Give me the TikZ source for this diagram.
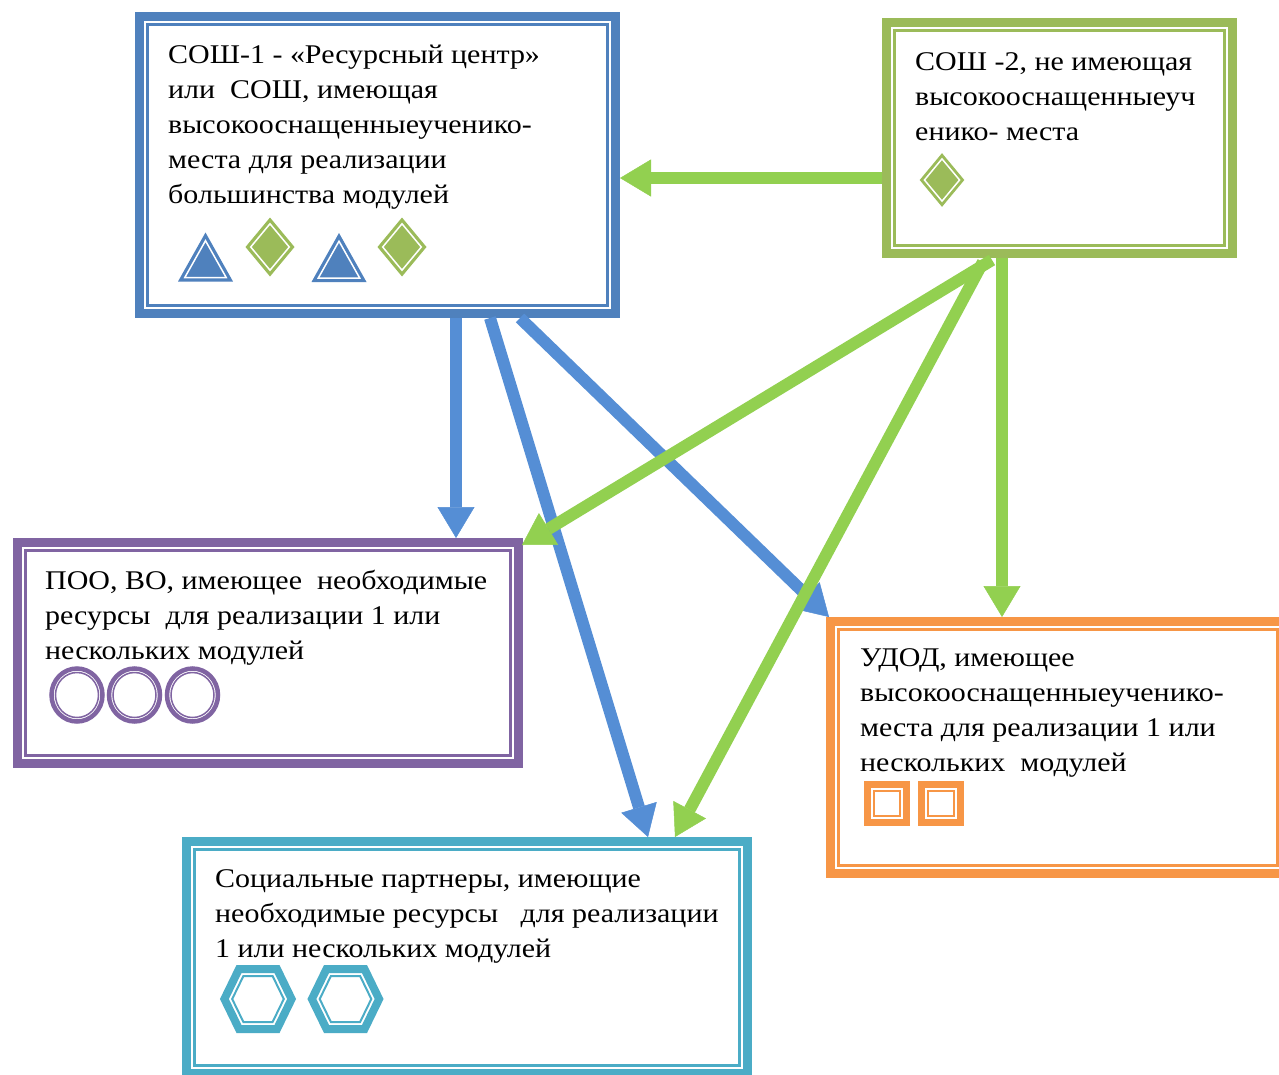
\documentclass[tikz,border=0pt]{standalone}
\usepackage{fontspec}
\setmainfont{Liberation Serif}[FakeStretch=1.11]
\usetikzlibrary{arrows.meta}
\definecolor{cBlue}{HTML}{4F81BD}
\definecolor{cBlueA}{HTML}{558ED5}
\definecolor{cGreen}{HTML}{9BBB59}
\definecolor{cGreenA}{HTML}{92D050}
\definecolor{cPurple}{HTML}{8064A2}
\definecolor{cOrange}{HTML}{F79646}
\definecolor{cCyan}{HTML}{4BACC6}
\begin{document}
\begin{tikzpicture}[x=1pt,y=-1pt,
  frame/.style={draw=#1, line width=9pt, rectangle, inner sep=0pt, outer sep=4.5pt},
  inframe/.style={draw=#1, line width=2.5pt},
  txt/.style={anchor=north west, inner sep=0pt, align=left, font=\fontsize{27}{35}\selectfont},
  tipstyle/.style={-{Triangle[width=37pt,length=31pt,line width=0.5pt]}},
  barrow/.style={draw=cBlueA, line width=12pt, tipstyle},
  garrow/.style={draw=cGreenA, line width=12pt, tipstyle},
  tri/.pic={\fill[cBlue] (0,-24) -- (27.5,25) -- (-27.5,25) -- cycle;
            \draw[white, line width=1.5pt] (0,-15.8) -- (20.7,21) -- (-20.7,21) -- cycle;},
  dia/.pic={\fill[cGreen] (0,-29.5) -- (24.5,0) -- (0,29.5) -- (-24.5,0) -- cycle;
            \draw[white, line width=1.5pt] (0,-23.2) -- (19.3,0) -- (0,23.2) -- (-19.3,0) -- cycle;},
  ring/.pic={\draw[cPurple, line width=4.5pt] (0,0) ellipse [x radius=25.5pt, y radius=26.5pt];
             \draw[cPurple, line width=1.5pt] (0,0) ellipse [x radius=21.5pt, y radius=22.5pt];},
  sqr/.pic={\draw[cOrange, line width=7pt] (-19.5,-19) rectangle (19.5,19);
            \draw[cOrange, line width=2pt] (-13,-12.5) rectangle (13,12.5);},
  hexa/.pic={\draw[cCyan, line width=8pt] (-33.6,0) -- (-19,-30) -- (19,-30) -- (33.6,0) -- (19,30) -- (-19,30) -- cycle;
             \draw[cCyan, line width=2pt] (-25.8,0) -- (-14.6,-23) -- (14.6,-23) -- (25.8,0) -- (14.6,23) -- (-14.6,23) -- cycle;},
]
\fill[white] (0,0) rectangle (1279,1074);
\useasboundingbox (0,0) rectangle (1279,1074);

% frames
\node[frame=cBlue, minimum width=476pt, minimum height=297pt] (s1) at (377.5,165) {};
\node[frame=cGreen, minimum width=346pt, minimum height=231pt] (s2) at (1059.5,138) {};
\node[frame=cPurple, minimum width=501pt, minimum height=221pt] (s3) at (268,653) {};
\node[frame=cOrange, minimum width=455pt, minimum height=252pt] (s4) at (1058,747.5) {};
\node[frame=cCyan, minimum width=561pt, minimum height=232pt] (s5) at (467,957.5) {};

\draw[inframe=cBlue] ([shift={(12.5pt,-12.5pt)}]s1.north west) rectangle ([shift={(-12.5pt,12.5pt)}]s1.south east);
\draw[inframe=cGreen] ([shift={(12.5pt,-12.5pt)}]s2.north west) rectangle ([shift={(-12.5pt,12.5pt)}]s2.south east);
\draw[inframe=cPurple] ([shift={(12.5pt,-12.5pt)}]s3.north west) rectangle ([shift={(-12.5pt,12.5pt)}]s3.south east);
\draw[inframe=cOrange] ([shift={(12.5pt,-12.5pt)}]s4.north west) rectangle ([shift={(-12.5pt,12.5pt)}]s4.south east);
\draw[inframe=cCyan] ([shift={(12.5pt,-12.5pt)}]s5.north west) rectangle ([shift={(-12.5pt,12.5pt)}]s5.south east);

% texts
\node[txt] (t1) at (168,33) {\rule{0pt}{30pt}СОШ-1 - «Ресурсный центр»\\или~~СОШ, имеющая\\высокооснащенныеученико-\\места для реализации\\большинства модулей};
\node[txt] (t2) at (915,40) {\rule{0pt}{30pt}СОШ -2, не имеющая\\высокооснащенныеуч\\енико- места};
\node[txt] (t3) at (45,559) {\rule{0pt}{30pt}ПОО, ВО, имеющее~~необходимые\\ресурсы~~для реализации 1 или\\нескольких модулей};
\node[txt] (t4) at (860,636) {\rule{0pt}{30pt}УДОД, имеющее\\высокооснащенныеученико-\\места для реализации 1 или\\нескольких~~модулей};
\node[txt] (t5) at (215,857) {\rule{0pt}{30pt}Социальные партнеры, имеющие\\необходимые ресурсы~~~для реализации\\1 или нескольких модулей};

% symbols
\pic at (205.5,256.5) {tri};
\pic at (270,247) {dia};
\pic at (339,257) {tri};
\pic at (402,247) {dia};
\pic[scale=0.91] at (942,180) {dia};
\pic at (77,695) {ring};
\pic at (134.5,695) {ring};
\pic at (192.5,695) {ring};
\pic at (887,803.5) {sqr};
\pic at (940.5,803) {sqr};
\pic at (258,999) {hexa};
\pic at (345.5,999) {hexa};

% connectors
\draw[barrow] ([xshift=78.5pt]s1.south) -- ([xshift=188pt]s3.north);
\draw[barrow] ([xshift=112.5pt]s1.south) -- ([xshift=181pt]s5.north);
\draw[barrow] ([xshift=142.5pt]s1.south) -- ([xshift=3pt]s4.north west);
\draw[garrow] ([yshift=-40pt]s2.west) -- ([yshift=-13pt]s1.east);
\draw[garrow] ([xshift=-67.5pt,yshift=-2pt]s2.south) -- ([xshift=-1pt,yshift=-7pt]s3.north east);
\draw[garrow] ([xshift=-76.5pt,yshift=-4pt]s2.south) -- ([xshift=208pt]s5.north);
\draw[garrow] ([xshift=-57.5pt]s2.south) -- ([xshift=-56pt]s4.north);
\end{tikzpicture}
\end{document}
